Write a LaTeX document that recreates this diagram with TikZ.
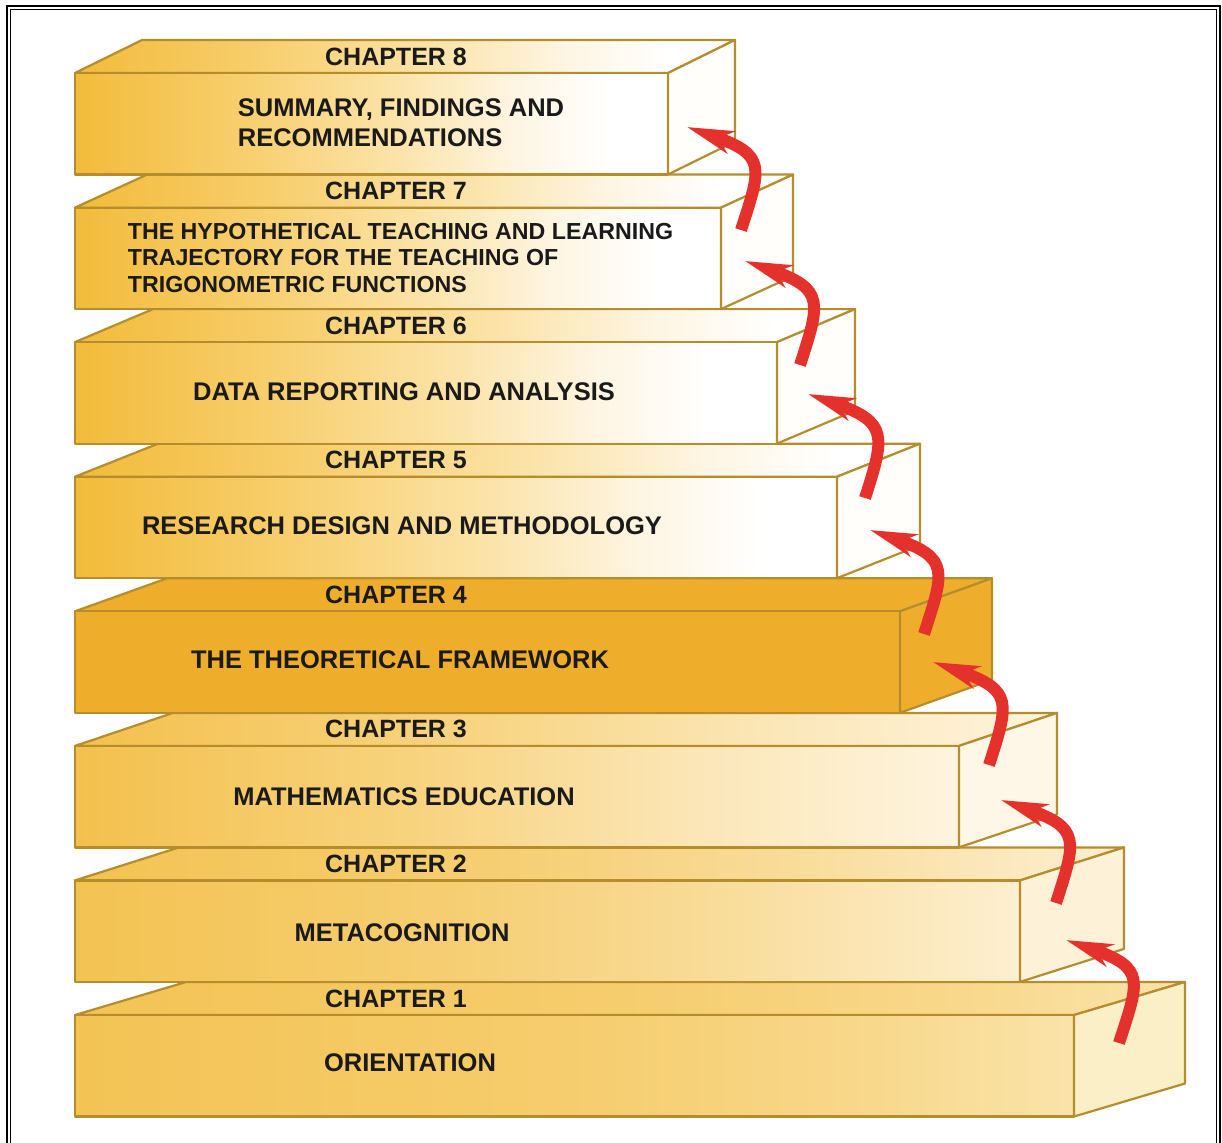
\documentclass[tikz,border=0pt]{standalone}
\usepackage{fontspec}
\setmainfont{Liberation Sans}
\usetikzlibrary{arrows.meta}
\definecolor{edge}{HTML}{B58D2D}
\definecolor{ch4col}{HTML}{EFAD2C}
\definecolor{arrowred}{HTML}{E4312B}
\definecolor{txt}{HTML}{1A1A1A}
\definecolor{gA0}{HTML}{F2BB3A}
\definecolor{gA1}{HTML}{F8D071}
\definecolor{gA2}{HTML}{FBE3A8}
\definecolor{gA3}{HTML}{FEF5E2}
\definecolor{gB0}{HTML}{F3C04C}
\definecolor{gB1}{HTML}{F8D481}
\definecolor{gB2}{HTML}{FBE6B6}
\definecolor{gB3}{HTML}{FEF4DE}
\definecolor{gC0}{HTML}{F3C352}
\definecolor{gC1}{HTML}{F6CE72}
\definecolor{gC2}{HTML}{F9DD9C}
\definecolor{gC3}{HTML}{FDEFD0}
\definecolor{gD0}{HTML}{F3C354}
\definecolor{gD1}{HTML}{F6CD6E}
\definecolor{gD2}{HTML}{F8D88C}
\definecolor{gD3}{HTML}{FAE3AA}
\definecolor{sideA}{HTML}{FFFEFB}
\definecolor{sideB}{HTML}{FEF6E6}
\definecolor{sideC}{HTML}{FDF1D8}
\definecolor{sideD}{HTML}{FBEFC8}
\pgfdeclarehorizontalshading{fadeA}{100bp}{color(0bp)=(gA0); color(25bp)=(gA0); color(40bp)=(gA1); color(52bp)=(gA2); color(62bp)=(gA3); color(70bp)=(white); color(100bp)=(white)}
\pgfdeclarehorizontalshading{fadeB}{100bp}{color(0bp)=(gB0); color(25bp)=(gB0); color(45bp)=(gB1); color(60bp)=(gB2); color(75bp)=(gB3); color(100bp)=(gB3)}
\pgfdeclarehorizontalshading{fadeC}{100bp}{color(0bp)=(gC0); color(25bp)=(gC0); color(45bp)=(gC1); color(60bp)=(gC2); color(75bp)=(gC3); color(100bp)=(gC3)}
\pgfdeclarehorizontalshading{fadeD}{100bp}{color(0bp)=(gD0); color(25bp)=(gD0); color(50bp)=(gD1); color(65bp)=(gD2); color(75bp)=(gD3); color(100bp)=(gD3)}
\newcommand\mybox[5]{%
  % #1 T, #2 R, #3 dx, #4 face style, #5 side colour
  \path[boxline,#4] (75,#1) -- ({75+#3},{#1-33}) -- ({#2+#3},{#1-33}) -- (#2,#1) -- cycle;
  \path[boxline,#4] (75,#1) rectangle (#2,{#1+101.5});
  \path[boxline,fill=#5] (#2,#1) -- ({#2+#3},{#1-33}) -- ({#2+#3},{#1+68.5}) -- (#2,{#1+101.5}) -- cycle;
}
\begin{document}
\begin{tikzpicture}[x=1pt,y=-1pt,
  boxline/.style={draw=edge, line width=2.2pt, line join=round},
  faceA/.style={shade, shading=fadeA},
  faceB/.style={shade, shading=fadeB},
  faceC/.style={shade, shading=fadeC},
  faceD/.style={shade, shading=fadeD},
  faceF/.style={fill=ch4col},
  chap/.style={font=\fontsize{25}{30}\selectfont\bfseries, text=txt, inner sep=0pt},
  body/.style={font=\fontsize{25.5}{30}\selectfont\bfseries, text=txt, inner sep=0pt, align=left},
  bodysmall/.style={font=\fontsize{23.2}{26.5}\selectfont\bfseries, text=txt, inner sep=0pt, align=left},
  redarr/.style={draw=arrowred, line width=12pt, line cap=butt,
    -{Stealth[length=46pt, width=23pt, inset=13pt]}}]
\useasboundingbox (0,0) rectangle (1222,1142);
% frame
\draw[line width=2.5pt] (6.8,6.2) rectangle (1220,1170);
\draw[line width=1pt] (10,9.6) rectangle (1216.8,1170);
% boxes
\mybox{1015}{1074}{111}{faceD}{sideD}
\mybox{880.4}{1020}{104}{faceC}{sideC}
\mybox{745.9}{959}{98}{faceB}{sideB}
\mybox{611.3}{900}{92}{faceF}{ch4col}
\mybox{476.7}{837}{83}{faceA}{sideA}
\mybox{342.1}{777}{78}{faceA}{sideA}
\mybox{207.6}{721}{72}{faceA}{sideA}
\mybox{73}{668}{67}{faceA}{sideA}
% labels
\node[chap] (c8) at (396,56.5) {CHAPTER 8};
\node[body] (t8) at (401,123) {SUMMARY, FINDINGS AND\\RECOMMENDATIONS};
\node[chap] (c7) at (396,191.1) {CHAPTER 7};
\node[bodysmall] (t7) at (400.5,257.6) {THE HYPOTHETICAL TEACHING AND LEARNING\\TRAJECTORY FOR THE TEACHING OF\\TRIGONOMETRIC FUNCTIONS};
\node[chap] (c6) at (396,325.6) {CHAPTER 6};
\node[body] (t6) at (404,392.1) {DATA REPORTING AND ANALYSIS};
\node[chap] (c5) at (396,460.2) {CHAPTER 5};
\node[body] (t5) at (402,525.5) {RESEARCH DESIGN AND METHODOLOGY};
\node[chap] (c4) at (396,594.8) {CHAPTER 4};
\node[body] (t4) at (400,660) {THE THEORETICAL FRAMEWORK};
\node[chap] (c3) at (396,729.4) {CHAPTER 3};
\node[body] (t3) at (404,797) {MATHEMATICS EDUCATION};
\node[chap] (c2) at (396,863.9) {CHAPTER 2};
\node[body] (t2) at (402,933) {METACOGNITION};
\node[chap] (c1) at (396,998.5) {CHAPTER 1};
\node[body] (t1) at (410,1063) {ORIENTATION};
% arrows
\coordinate (s1) at (1119,1043); \coordinate (e1) at (1066,940);
\coordinate (s2) at (1056,903);  \coordinate (e2) at (1001,800);
\coordinate (s3) at (989,765);   \coordinate (e3) at (933,662);
\coordinate (s4) at (924,634);   \coordinate (e4) at (870,530);
\coordinate (s5) at (865,498);   \coordinate (e5) at (808,394);
\coordinate (s6) at (800,365);   \coordinate (e6) at (745,261);
\coordinate (s7) at (741,230);   \coordinate (e7) at (687,127);
\foreach \i in {1,...,7}{
  \draw[redarr] (s\i) .. controls +(20,-62) and +(80,28) .. (e\i);
}
\end{tikzpicture}
\end{document}
